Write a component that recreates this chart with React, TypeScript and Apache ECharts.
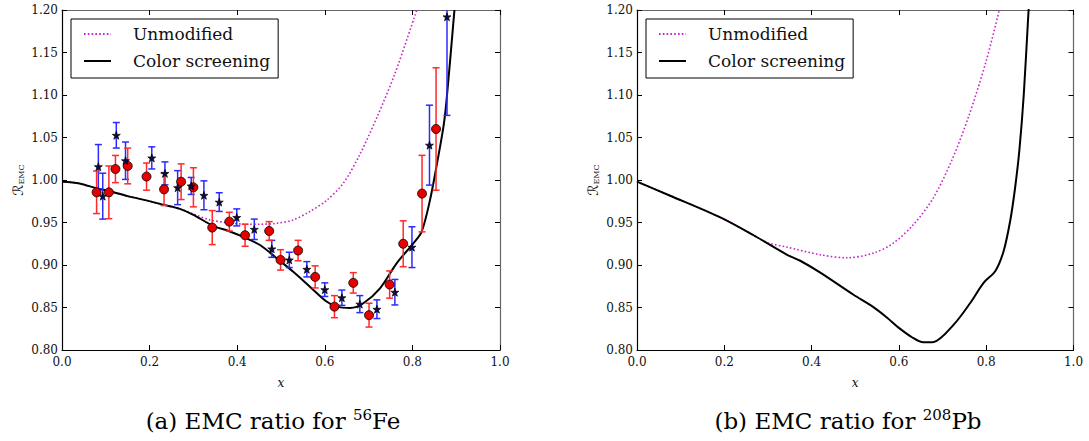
import React, { useEffect, useRef } from "react";
import * as echarts from "echarts";

// ---------- Data ----------
// Fe-56 experimental points (red circles)
const redX = [0.079, 0.107, 0.122, 0.150, 0.193, 0.233, 0.272, 0.300, 0.343, 0.382, 0.418, 0.473, 0.499, 0.539, 0.578, 0.622, 0.665, 0.701, 0.748, 0.779, 0.822, 0.854];
const redY = [0.9855, 0.9855, 1.0129, 1.0165, 1.004, 0.989, 0.998, 0.9914, 0.944, 0.951, 0.935, 0.940, 0.906, 0.917, 0.886, 0.851, 0.879, 0.841, 0.877, 0.925, 0.984, 1.060];
const redErr = [0.025, 0.031, 0.016, 0.021, 0.016, 0.019, 0.021, 0.023, 0.020, 0.011, 0.013, 0.011, 0.012, 0.012, 0.013, 0.013, 0.012, 0.014, 0.016, 0.027, 0.045, 0.072];

// Fe-56 experimental points (stars, blue error bars)
const blueX = [0.083, 0.093, 0.124, 0.145, 0.205, 0.235, 0.264, 0.295, 0.324, 0.359, 0.399, 0.439, 0.479, 0.519, 0.559, 0.600, 0.639, 0.680, 0.719, 0.760, 0.799, 0.839, 0.879];
const blueY = [1.0157, 0.981, 1.0526, 1.0227, 1.026, 1.0078, 0.991, 0.993, 0.982, 0.974, 0.956, 0.942, 0.919, 0.906, 0.895, 0.871, 0.8615, 0.854, 0.848, 0.868, 0.921, 1.041, 1.192];
const blueErr = [0.026, 0.027, 0.015, 0.022, 0.013, 0.0135, 0.020, 0.010, 0.017, 0.011, 0.010, 0.012, 0.010, 0.009, 0.009, 0.008, 0.009, 0.010, 0.011, 0.015, 0.024, 0.047, 0.116];

// Fe curves
const feScreenX = [0, 0.04, 0.08, 0.107, 0.15, 0.193, 0.23, 0.269, 0.30, 0.345, 0.38, 0.414, 0.452, 0.49, 0.528, 0.566, 0.604, 0.627, 0.658, 0.688, 0.726, 0.764, 0.802, 0.821, 0.840, 0.855, 0.871, 0.878, 0.896];
const feScreenY = [0.998, 0.996, 0.990, 0.987, 0.981, 0.976, 0.971, 0.966, 0.959, 0.946, 0.940, 0.933, 0.9235, 0.908, 0.892, 0.8745, 0.857, 0.851, 0.8495, 0.855, 0.8726, 0.902, 0.9255, 0.939, 0.976, 1.016, 1.063, 1.094, 1.20];
const feUnmodX = [0, 0.04, 0.08, 0.107, 0.15, 0.193, 0.23, 0.269, 0.30, 0.338, 0.376, 0.42, 0.452, 0.49, 0.528, 0.566, 0.604, 0.642, 0.68, 0.72, 0.76, 0.81];
const feUnmodY = [0.998, 0.996, 0.990, 0.987, 0.981, 0.976, 0.971, 0.966, 0.960, 0.953, 0.950, 0.948, 0.948, 0.949, 0.953, 0.963, 0.976, 0.996, 1.030, 1.075, 1.125, 1.20];

// Pb curves
const pbScreenX = [0, 0.076, 0.191, 0.267, 0.344, 0.374, 0.42, 0.496, 0.54, 0.573, 0.60, 0.63, 0.656, 0.68, 0.725, 0.763, 0.794, 0.821, 0.840, 0.855, 0.866, 0.876, 0.886, 0.896, 0.902];
const pbScreenY = [0.998, 0.9815, 0.956, 0.935, 0.912, 0.905, 0.891, 0.865, 0.851, 0.838, 0.826, 0.815, 0.809, 0.8095, 0.8295, 0.855, 0.879, 0.893, 0.9165, 0.952, 0.990, 1.035, 1.10, 1.19, 1.24];
const pbUnmodX = [0, 0.076, 0.191, 0.267, 0.30, 0.344, 0.42, 0.481, 0.542, 0.588, 0.634, 0.679, 0.721, 0.76, 0.80, 0.83];
const pbUnmodY = [0.998, 0.9815, 0.956, 0.935, 0.926, 0.921, 0.912, 0.9085, 0.914, 0.926, 0.948, 0.979, 1.023, 1.075, 1.14, 1.20];

const xTicks = { min: 0, max: 1, interval: 0.2 };
const yTicks = { min: 0.8, max: 1.2, interval: 0.05 };
const seriesNames = ["Unmodified", "Color screening"];
const captions = ["(a) EMC ratio for ", "(b) EMC ratio for "];
const isotopes = [["56", "Fe"], ["208", "Pb"]];

const SERIF = "DejaVu Serif, Liberation Serif, serif";
const STAR = "path://M50,0 L61.8,35.1 L97.6,34.5 L69,56.4 L79.4,90.5 L50,70 L20.6,90.5 L31,56.4 L2.4,34.5 L38.2,35.1 Z";

const zip = (xs: number[], ys: number[]) => xs.map((x, i) => [x, ys[i]]);
const zip3 = (xs: number[], ys: number[], es: number[]) => xs.map((x, i) => [x, ys[i], es[i]]);

function errRenderer(color: string) {
  return (params: any, api: any) => {
    const x = api.value(0), y = api.value(1), e = api.value(2);
    const cs = params.coordSys;
    const t = api.coord([x, y + e]);
    const b = api.coord([x, y - e]);
    let ty = t[1];
    const by = b[1];
    const clipTop = ty < cs.y;
    if (clipTop) ty = cs.y;
    const cw = 3.5;
    const st = { stroke: color, lineWidth: 1.5 };
    const children: any[] = [
      { type: "line", shape: { x1: t[0], y1: ty, x2: t[0], y2: by }, style: st },
      { type: "line", shape: { x1: t[0] - cw, y1: by, x2: t[0] + cw, y2: by }, style: st },
    ];
    if (!clipTop) children.push({ type: "line", shape: { x1: t[0] - cw, y1: ty, x2: t[0] + cw, y2: ty }, style: st });
    return { type: "group", children };
  };
}

function axesFor(gi: number) {
  const tick = { show: true, inside: true, length: 5, lineStyle: { color: "#000", width: 1 } };
  const label = { fontFamily: SERIF, fontSize: 12, color: "#111", lineHeight: 11 };
  const xs = [
    {
      gridIndex: gi, type: "value", ...xTicks, position: "bottom",
      axisLine: { show: true, onZero: false, lineStyle: { color: "#000", width: 1.2 } },
      axisTick: tick, splitLine: { show: false },
      axisLabel: { ...label, margin: 6, formatter: (v: number) => v.toFixed(1) },
      name: "x", nameLocation: "middle", nameGap: 27,
      nameTextStyle: { fontFamily: SERIF, fontStyle: "italic", fontSize: 12, color: "#111" },
    },
    {
      gridIndex: gi, type: "value", ...xTicks, position: "top",
      axisLine: { show: true, onZero: false, lineStyle: { color: "#666", width: 1.2 } },
      axisTick: tick, splitLine: { show: false }, axisLabel: { show: false },
    },
  ];
  const ys = [
    {
      gridIndex: gi, type: "value", ...yTicks, position: "left",
      axisLine: { show: true, onZero: false, lineStyle: { color: "#000", width: 1.2 } },
      axisTick: tick, splitLine: { show: false },
      axisLabel: { ...label, margin: 4, formatter: (v: number) => v.toFixed(2) },
      name: "{r|\u211B}{e|EMC}", nameLocation: "middle", nameGap: 37,
      nameTextStyle: {
        rich: {
          r: { fontFamily: "DejaVu Serif, DejaVu Sans, serif", fontSize: 14, color: "#111", verticalAlign: "bottom" },
          e: { fontFamily: SERIF, fontSize: 8, color: "#111", verticalAlign: "bottom" },
        },
      },
    },
    {
      gridIndex: gi, type: "value", ...yTicks, position: "right",
      axisLine: { show: true, onZero: false, lineStyle: { color: "#666", width: 1.2 } },
      axisTick: tick, splitLine: { show: false }, axisLabel: { show: false },
    },
  ];
  return { xs, ys };
}

export default function App() {
  const ref = useRef<HTMLDivElement>(null);
  useEffect(() => {
    const chart = echarts.init(ref.current!, null, { renderer: "svg" });
    const a0 = axesFor(0);
    const a1 = axesFor(1);
    const lineSeries = (name: string, xi: number, yi: number, data: number[][], dotted: boolean) => ({
      name, type: "line", xAxisIndex: xi, yAxisIndex: yi, data,
      showSymbol: false, symbol: "none", smooth: 0.3, clip: true, z: 2,
      lineStyle: dotted ? { color: "#cc22cc", width: 1.6, type: [1.6, 2.2] } : { color: "#000", width: 2 },
      itemStyle: { color: dotted ? "#cc22cc" : "#000" },
    });
    const legend = (left: number) => ({
      left, top: 19, orient: "vertical", data: seriesNames,
      itemWidth: 27, itemHeight: 14, itemGap: 9,
      padding: [6, 8, 8, 12],
      borderColor: "#000", borderWidth: 1, backgroundColor: "#fff",
      itemStyle: { opacity: 0 },
      textStyle: { fontFamily: SERIF, fontSize: 17, color: "#111", lineHeight: 18, padding: [0, 0, 0, 17] },
      selectedMode: false,
    });
    const caption = (i: number, cx: number) => ({
      type: "text", x: cx, y: 407,
      style: {
        text: `{n|${captions[i]}}{s|${isotopes[i][0]}}{n|${isotopes[i][1]}}`,
        textAlign: "center",
        rich: {
          n: { fontFamily: SERIF, fontSize: 23, color: "#111", lineHeight: 25, verticalAlign: "bottom" },
          s: { fontFamily: SERIF, fontSize: 15, color: "#111", lineHeight: 15, verticalAlign: "top" },
        },
      },
    });
    chart.setOption({
      animation: false,
      backgroundColor: "#fff",
      grid: [
        { left: 62, top: 10, width: 438, height: 340 },
        { left: 637, top: 10, width: 436.5, height: 340 },
      ],
      xAxis: [...a0.xs, ...a1.xs],
      yAxis: [...a0.ys, ...a1.ys],
      legend: [legend(71), legend(646)],
      series: [
        lineSeries(seriesNames[0], 0, 0, zip(feUnmodX, feUnmodY), true),
        lineSeries(seriesNames[1], 0, 0, zip(feScreenX, feScreenY), false),
        lineSeries(seriesNames[0], 2, 2, zip(pbUnmodX, pbUnmodY), true),
        lineSeries(seriesNames[1], 2, 2, zip(pbScreenX, pbScreenY), false),
        {
          type: "custom", xAxisIndex: 0, yAxisIndex: 0, z: 3,
          data: zip3(blueX, blueY, blueErr), encode: { x: 0, y: 1 },
          renderItem: errRenderer("#2b2bff"),
        },
        {
          type: "custom", xAxisIndex: 0, yAxisIndex: 0, z: 3,
          data: zip3(redX, redY, redErr), encode: { x: 0, y: 1 },
          renderItem: errRenderer("#ff2a2a"),
        },
        {
          type: "scatter", xAxisIndex: 0, yAxisIndex: 0, z: 4,
          data: zip(redX, redY), symbol: "circle", symbolSize: 9,
          itemStyle: { color: "#e60000", borderColor: "#000", borderWidth: 0.8, opacity: 1 },
        },
        {
          type: "scatter", xAxisIndex: 0, yAxisIndex: 0, z: 5,
          data: zip(blueX, blueY), symbol: STAR, symbolSize: 8,
          itemStyle: { color: "#0c0c45", borderColor: "#000", borderWidth: 0.7, opacity: 1 },
        },
      ],
      graphic: [caption(0, 273), caption(1, 848)],
    });
    return () => chart.dispose();
  }, []);
  return <div ref={ref} style={{ position: "absolute", left: 0, top: 0, width: 1089, height: 441 }} />;
}
